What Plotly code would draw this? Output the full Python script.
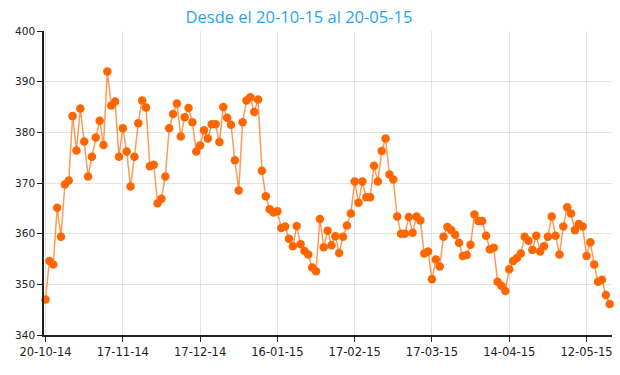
import plotly.graph_objects as go

tick_labels = ["20-10-14", "17-11-14", "17-12-14", "16-01-15", "17-02-15",
               "17-03-15", "14-04-15", "12-05-15"]
tick_index = [0, 20, 40, 60, 80, 100, 120, 140]

values = [
    347.0, 354.6, 353.9, 365.1, 359.4, 369.7, 370.5, 383.2, 376.4, 384.7,
    378.2, 371.3, 375.2, 379.0, 382.3, 377.5, 392.0, 385.3, 386.1, 375.2,
    380.8, 376.2, 369.3, 375.2, 381.8, 386.3, 384.9, 373.3, 373.6, 366.0,
    366.9, 371.3, 380.8, 383.6, 385.7, 379.2, 383.0, 384.8, 382.0, 376.2,
    377.4, 380.4, 378.8, 381.6, 381.6, 378.1, 385.0, 382.9, 381.5, 374.5,
    368.5, 382.0, 386.3, 386.9, 384.0, 386.5, 372.4, 367.4, 364.8, 364.2,
    364.4, 361.1, 361.4, 359.0, 357.5, 361.5, 357.9, 356.6, 355.9, 353.3,
    352.6, 362.9, 357.3, 360.6, 357.7, 359.5, 356.2, 359.4, 361.6, 364.0,
    370.3, 366.1, 370.3, 367.2, 367.2, 373.4, 370.3, 376.3, 378.8, 371.7,
    370.7, 363.4, 360.0, 360.0, 363.3, 360.2, 363.4, 362.6, 356.1, 356.5,
    351.0, 354.9, 353.5, 359.4, 361.3, 360.7, 359.8, 358.2, 355.6, 355.8,
    357.8, 363.8, 362.5, 362.5, 359.6, 356.9, 357.2, 350.5, 349.7, 348.7,
    353.0, 354.6, 355.2, 356.1, 359.4, 358.6, 356.8, 359.6, 356.5, 357.5,
    359.4, 363.4, 359.6, 355.9, 361.4, 365.2, 364.0, 360.7, 361.9, 361.4,
    355.6, 358.3, 353.9, 350.5, 350.9, 347.9, 346.1,
]
x_index = list(range(len(values)))

fig = go.Figure()
fig.add_trace(go.Scatter(
    x=x_index, y=values, mode="lines+markers",
    line=dict(color="rgba(255,120,30,0.75)", width=1.5),
    marker=dict(color="#ff6600", size=8.5, line=dict(width=0)),
    hoverinfo="y", cliponaxis=False,
))

fig.update_layout(
    width=620, height=375,
    margin=dict(l=44, r=8, t=31, b=40, autoexpand=False),
    paper_bgcolor="white", plot_bgcolor="white",
    showlegend=False,
    title=dict(text="Desde el 20-10-15 al 20-05-15", x=299/620, xanchor="center",
               xref="container", yref="container", y=1 - 17/375, yanchor="middle",
               automargin=False,
               font=dict(family="Open Sans", size=16.5, color="#1fa6ee")),
    xaxis=dict(
        range=[-0.4, 146.6], tickmode="array", tickvals=tick_index,
        ticktext=tick_labels, showgrid=True, gridcolor="#e3e3e3", gridwidth=1,
        showline=True, linecolor="#222", linewidth=1.5,
        ticks="outside", ticklen=5, tickcolor="#222",
        tickfont=dict(family="DejaVu Sans", size=11.5, color="#222"),
        zeroline=False, automargin=False,
    ),
    yaxis=dict(
        range=[340, 400], tickmode="array", tickvals=[340, 350, 360, 370, 380, 390, 400],
        showgrid=True, gridcolor="#e3e3e3", gridwidth=1,
        showline=True, linecolor="#222", linewidth=1.5,
        ticks="outside", ticklen=5, tickcolor="#222",
        tickfont=dict(family="DejaVu Sans", size=10.5, color="#222"),
        zeroline=False, automargin=False,
    ),
)

fig.write_html("out.html", config={"displayModeBar": False},
               post_script="document.body.style.margin='0';document.body.style.overflow='hidden';")
